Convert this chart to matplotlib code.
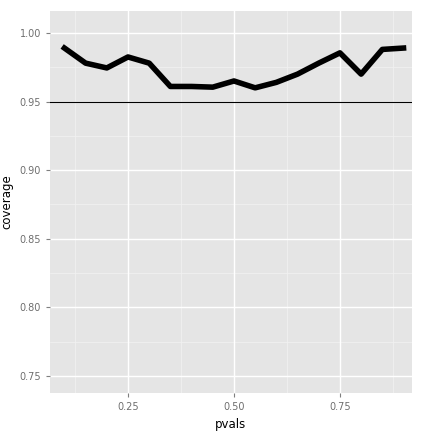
import matplotlib.pyplot as plt

pvals = [0.10, 0.15, 0.20, 0.25, 0.30, 0.35, 0.40, 0.45, 0.50, 0.55, 0.60, 0.65, 0.70, 0.75, 0.80, 0.85, 0.90]
coverage = [0.989, 0.978, 0.9745, 0.9825, 0.978, 0.961, 0.961, 0.9605, 0.965, 0.960, 0.964, 0.970, 0.978, 0.9855, 0.970, 0.988, 0.989]
yticks = [0.75, 0.80, 0.85, 0.90, 0.95, 1.00]
xticks = [0.25, 0.50, 0.75]

fig = plt.figure(figsize=(4.32, 4.32), dpi=100)
ax = fig.add_axes([50/432, 39/432, 362/432, 382/432])
ax.set_facecolor('#E5E5E5')
for s in ax.spines.values():
    s.set_visible(False)

# minor gridlines
for v in [0.775, 0.825, 0.875, 0.925, 0.975]:
    ax.axhline(v, color='#F2F2F2', lw=0.5, zorder=0)
for v in [0.125, 0.375, 0.625, 0.875]:
    ax.axvline(v, color='#F2F2F2', lw=0.5, zorder=0)
ax.grid(True, color='white', lw=1, zorder=0)
ax.set_axisbelow(True)

ax.plot(pvals, coverage, color='black', lw=4, solid_joinstyle='round', zorder=3)
ax.axhline(0.95, color='black', lw=0.8, zorder=2)

ax.set_xlim(0.066, 0.92)
ax.set_ylim(0.7376, 1.016)
ax.set_xticks(xticks)
ax.set_xticklabels(['0.25', '0.50', '0.75'])
ax.set_yticks(yticks)
ax.set_yticklabels([f'{v:.2f}' for v in yticks])
ax.tick_params(colors='#7F7F7F', labelsize=7, length=3, labelcolor='#6E6E6E')
ax.set_xlabel('pvals', fontsize=8.5)
ax.set_ylabel('coverage', fontsize=8.5)

fig.savefig('out.png', dpi=100)
